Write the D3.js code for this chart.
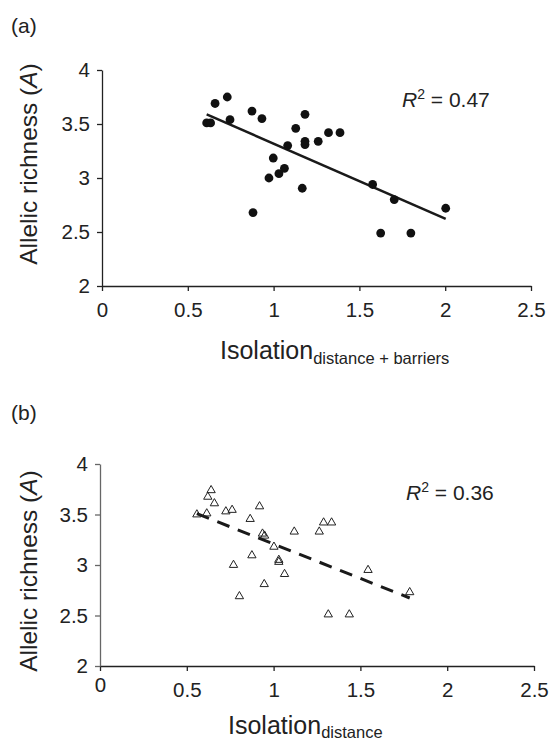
<!DOCTYPE html>
<html>
<head>
<meta charset="utf-8">
<script src="https://cdn.jsdelivr.net/npm/d3@7"></script>
<style>
  body { margin: 0; background: #fff; }
  svg text { font-family: "Liberation Sans", Arial, Helvetica, sans-serif; fill: #222; }
</style>
</head>
<body>
<svg id="chart" width="551" height="742"></svg>
<script>
// panel (a): isolation distance + barriers vs allelic richness
const isoBarriers = [0.61, 0.633, 0.659, 0.73, 0.746, 0.874, 0.932, 0.88, 0.973, 0.998, 1.031, 1.063, 1.082,
  1.129, 1.167, 1.183, 1.183, 1.183, 1.26, 1.32, 1.387, 1.577, 1.703, 1.624, 1.8, 2.003];
const richnessA = [3.51, 3.51, 3.69, 3.75, 3.54, 3.62, 3.55, 2.68, 3.0, 3.185, 3.04, 3.09, 3.3,
  3.46, 2.905, 3.59, 3.34, 3.31, 3.34, 3.42, 3.42, 2.94, 2.8, 2.49, 2.49, 2.72];

// panel (b): isolation distance vs allelic richness
const isoDistance = [0.558, 0.615, 0.64, 0.621, 0.659, 0.725, 0.761, 0.919, 0.865, 0.936, 0.948, 1.002,
  0.875, 0.769, 1.03, 1.03, 1.063, 0.946, 0.803, 1.119, 1.263, 1.288, 1.315, 1.334, 1.544, 1.784, 1.436];
const richnessB = [3.5, 3.51, 3.74, 3.675, 3.61, 3.53, 3.545, 3.58, 3.455, 3.31, 3.29, 3.18,
  3.095, 3.0, 3.05, 3.03, 2.91, 2.81, 2.69, 3.33, 3.33, 3.42, 2.51, 3.42, 2.95, 2.73, 2.51];

const xTicks = [0, 0.5, 1, 1.5, 2, 2.5];
const xTickLabels = ["0", "0.5", "1", "1.5", "2", "2.5"];
const yTicks = [2, 2.5, 3, 3.5, 4];
const yTickLabels = ["2", "2.5", "3", "3.5", "4"];
const r2Labels = ["0.47", "0.36"];

const svg = d3.select("#chart");

function fit(xs, ys) {
  const mx = d3.mean(xs), my = d3.mean(ys);
  const b = d3.sum(xs, (x, i) => (x - mx) * (ys[i] - my)) / d3.sum(xs, (x) => (x - mx) ** 2);
  const a = my - b * mx;
  const ext = d3.extent(xs);
  return ext.map((x) => [x, a + b * x]);
}

function panel(opt) {
  const x = d3.scaleLinear().domain([0, 2.5]).range(opt.xr);
  const y = d3.scaleLinear().domain([2, 4]).range(opt.yr);
  const g = svg.append("g");

  const xAxis = g.append("g")
    .attr("transform", `translate(0,${opt.yr[0]})`)
    .call(d3.axisBottom(x).tickValues(xTicks).tickFormat((d, i) => xTickLabels[i])
      .tickSize(5).tickSizeOuter(0).tickPadding(11));
  xAxis.selectAll("path, line").attr("stroke", "#222").attr("stroke-width", 1.3);
  xAxis.selectAll("text").attr("font-size", 20.5).attr("fill", "#222");
  if (opt.zeroShift) xAxis.select(".tick text").attr("y", 16 - opt.zeroShift);

  const yAxis = g.append("g")
    .attr("transform", `translate(${opt.xr[0]},0)`)
    .call(d3.axisLeft(y).tickValues(yTicks).tickFormat((d, i) => yTickLabels[i])
      .tickSize(5).tickSizeOuter(0).tickPadding(7));
  yAxis.selectAll("path, line").attr("stroke", opt.yAxisColor).attr("stroke-width", 1.3);
  yAxis.selectAll("text").attr("font-size", 20.5).attr("fill", "#222");

  // fit line
  const line = d3.line().x((d) => x(d[0])).y((d) => y(d[1]));
  g.append("path")
    .attr("d", line(fit(opt.xs, opt.ys)))
    .attr("fill", "none")
    .attr("stroke", "#1a1a1a")
    .attr("stroke-width", opt.dashed ? 3 : 2.5)
    .attr("stroke-dasharray", opt.dashed ? "13,9" : null);

  const pts = opt.xs.map((v, i) => [v, opt.ys[i]]);
  if (opt.dashed) {
    g.selectAll(".tri").data(pts).join("path")
      .attr("class", "tri")
      .attr("transform", (d) => `translate(${x(d[0])},${y(d[1])})`)
      .attr("d", d3.symbol(d3.symbolTriangle, 30))
      .attr("fill", "none")
      .attr("stroke", "#222")
      .attr("stroke-width", 1);
  } else {
    g.selectAll(".dot").data(pts).join("circle")
      .attr("class", "dot")
      .attr("cx", (d) => x(d[0]))
      .attr("cy", (d) => y(d[1]))
      .attr("r", 4.4)
      .attr("fill", "#111");
  }

  // panel letter
  g.append("text").attr("x", 11).attr("y", opt.letterY).attr("font-size", 21).text(opt.letter);

  // y label
  const yl = g.append("text")
    .attr("transform", `translate(37,${opt.ylabelY}) rotate(-90)`)
    .attr("text-anchor", "middle")
    .attr("font-size", 24.5);
  yl.append("tspan").text("Allelic richness (");
  yl.append("tspan").attr("font-style", "italic").text("A");
  yl.append("tspan").text(")");

  // x label
  const xl = g.append("text")
    .attr("x", opt.xlabel[0]).attr("y", opt.xlabel[1])
    .attr("font-size", 25);
  xl.append("tspan").text("Isolation");
  xl.append("tspan").attr("font-size", 16.5).attr("dy", opt.subDy).text(opt.sub);

  // R squared
  const rt = g.append("text").attr("x", opt.r2[0]).attr("y", opt.r2[1]).attr("font-size", 21);
  rt.append("tspan").attr("font-style", "italic").text("R");
  rt.append("tspan").attr("font-size", 14).attr("dy", -8).text("2");
  rt.append("tspan").attr("dy", 8).text(" = " + opt.r2Label);
}

panel({
  xs: isoBarriers, ys: richnessA, xr: [102, 531], yr: [286, 70],
  yAxisColor: "#222", dashed: false, letter: "(a)", letterY: 33,
  ylabelY: 164, xlabel: [220, 359], sub: "distance + barriers", subDy: 5,
  r2: [402, 107], r2Label: r2Labels[0]
});

panel({
  xs: isoDistance, ys: richnessB, xr: [100, 534], yr: [666, 464],
  yAxisColor: "#666", dashed: true, letter: "(b)", letterY: 420, zeroShift: 5,
  ylabelY: 571, xlabel: [228, 734], sub: "distance", subDy: 3.5,
  r2: [406, 500], r2Label: r2Labels[1]
});
</script>
</body>
</html>
